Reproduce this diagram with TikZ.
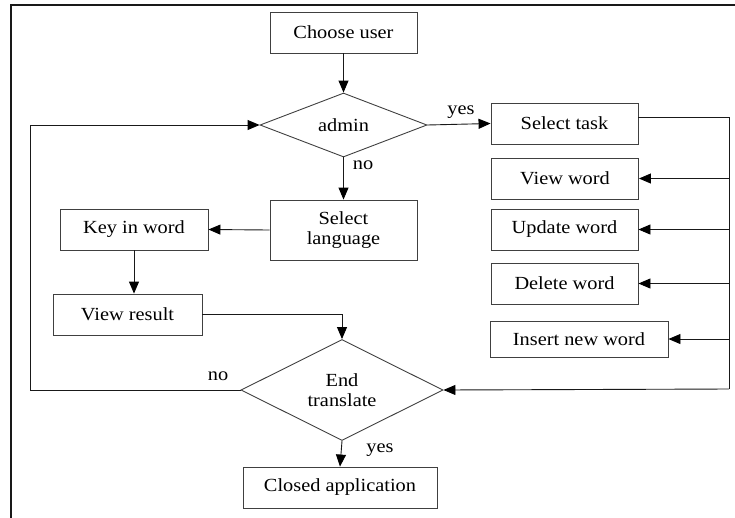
\documentclass[tikz,border=0pt]{standalone}
\usepackage{fontspec}
\setmainfont{Liberation Serif}[FakeStretch=1.1]
\usetikzlibrary{shapes.geometric,arrows.meta}
\begin{document}
\begin{tikzpicture}[x=1pt,y=-1pt,
  every node/.style={font=\fontsize{18.5}{20}\selectfont},
  ln/.style={draw=black!90,line width=0.9pt},
  arr/.style={ln,-{Triangle[length=12pt,width=10pt,fill=black,color=black]}},
  box/.style={ln,draw=black!75,rectangle,inner sep=0pt,align=center},
  dia/.style={ln,draw=black!75,diamond,shape aspect=2,inner sep=0pt,align=center},
  lbl/.style={inner sep=0pt}]
\useasboundingbox (0,0) rectangle (735,517);
\draw[line width=1.8pt,black!90] (11,520) -- (11,5) -- (737,5);
% nodes
\node[box,minimum width=147pt,minimum height=41pt] (choose) at (343.5,32.5) {Choose user};
\node[dia,minimum width=167pt,minimum height=64pt] (admin) at (343.5,125) {admin};
\node[box,minimum width=147pt,minimum height=41pt] (task) at (564.5,123.5) {Select task};
\node[box,minimum width=147pt,minimum height=41pt] (view) at (565,178.5) {View word};
\node[box,minimum width=147pt,minimum height=41pt] (update) at (564.5,229.5) {Update word};
\node[box,minimum width=147pt,minimum height=41pt] (delete) at (564.5,283.5) {Delete word};
\node[box,minimum width=178pt,minimum height=36pt] (insert) at (579,339) {Insert new word};
\node[box,minimum width=147pt,minimum height=60pt] (lang) at (343.5,230) {Select\\language};
\node[box,minimum width=148pt,minimum height=41pt] (key) at (134,229.5) {Key in word};
\node[box,minimum width=149pt,minimum height=41pt] (vr) at (127.5,314.5) {View result};
\node[dia,minimum width=202pt,minimum height=101pt] (end) at (342,390) {End\\translate};
\node[box,minimum width=194pt,minimum height=41pt] (closed) at (340,487.5) {Closed application};
% labels
\node[lbl] (yes1) at (461,112) {yes};
\node[lbl] (no1) at (363,165) {no};
\node[lbl] (no2) at (218,376) {no};
\node[lbl] (yes2) at (380,450) {yes};
% coordinates
\coordinate (r1) at (729,117);
\coordinate (r2) at (729,389);
\coordinate (l1) at (30,390);
% connectors
\draw[arr] (choose) -- (admin);
\draw[arr] (admin.east) -- (task.west);
\draw[arr] (admin.south) -- (lang.north);
\draw[arr] (lang.west) -- (key.east);
\draw[arr] (key.south) -- (key.south |- vr.north);
\draw[arr] (vr.east) -| (end.north);
\draw[ln] (task.east |- r1) -- (r1) -- (r2);
\draw[arr] (r2) -- (end.east);
\draw[arr] (view.east -| r1) -- (view.east);
\draw[arr] (update.east -| r1) -- (update.east);
\draw[arr] (delete.east -| r1) -- (delete.east);
\draw[arr] (insert.east -| r1) -- (insert.east);
\draw[arr] (end.west) -- (l1) |- (admin.west);
\draw[arr] (end.south) -- (closed.north);
\end{tikzpicture}
\end{document}
